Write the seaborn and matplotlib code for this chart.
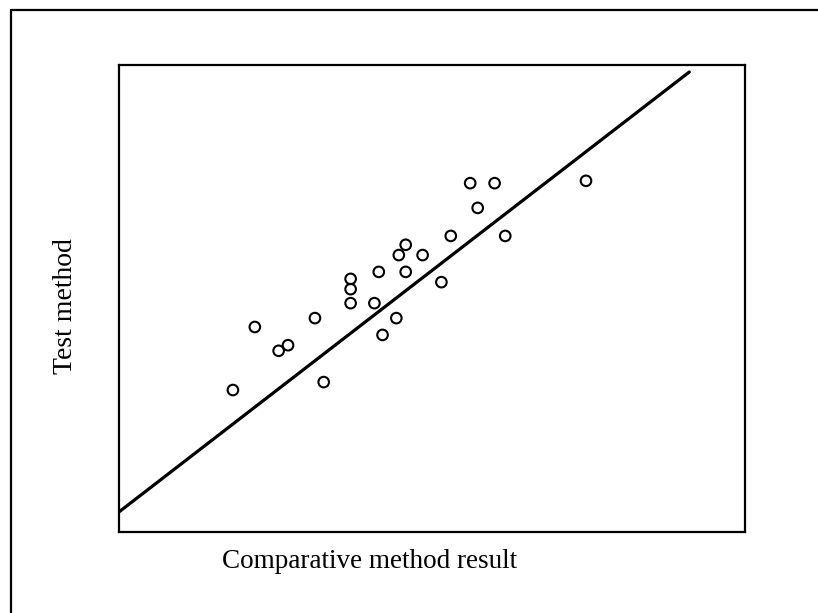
import matplotlib
matplotlib.use("Agg")
import matplotlib.pyplot as plt
import seaborn as sns
import pandas as pd
from matplotlib.lines import Line2D

# data (arbitrary units, axes 0-100)
comparative = [18.2, 21.7, 25.5, 27.0, 31.3, 32.7, 37.0, 37.0, 37.0, 40.8, 41.5, 42.1,
               44.3, 44.7, 45.8, 45.8, 48.5, 51.5, 53.0, 56.1, 60.0, 57.3, 61.7, 74.6]
test = [30.4, 43.9, 38.8, 40.0, 45.8, 32.1, 54.2, 52.0, 49.0, 49.0, 55.7, 42.2,
        45.8, 59.3, 61.5, 55.7, 59.3, 53.5, 63.4, 74.7, 74.7, 69.4, 63.4, 75.2]
fit_x = [0.0, 91.1]
fit_y = [4.3, 98.5]

df = pd.DataFrame({"comparative": comparative, "test": test})
fit = pd.DataFrame({"x": fit_x, "y": fit_y})

sns.set_style("white")
plt.rcParams["font.family"] = ["Liberation Serif", "DejaVu Serif"]

fig = plt.figure(figsize=(8.18, 6.13), dpi=100)
ax = fig.add_axes([119 / 818, 1 - 532 / 613, 626 / 818, 467 / 613])

sns.lineplot(data=fit, x="x", y="y", color="black", linewidth=2.3, ax=ax)
sns.scatterplot(data=df, x="comparative", y="test", s=58, facecolor="none",
                edgecolor="black", linewidth=1.5, ax=ax)

ax.set_xlim(0, 100)
ax.set_ylim(0, 100)
ax.set_xticks([])
ax.set_yticks([])
ax.set_xlabel("")
ax.set_ylabel("")
for sp in ax.spines.values():
    sp.set_color("black")
    sp.set_linewidth(1.6)

fig.text(370 / 818, 1 - 562 / 613, "Comparative method result", ha="center", va="center",
         fontsize=19.5, color="black")
fig.text(65 / 818, 1 - 306 / 613, "Test method", ha="center", va="center",
         rotation=90, fontsize=20, color="black")

# outer frame (cut off at right and bottom)
fig.add_artist(Line2D([11 / 818, 11 / 818], [0, 1 - 10 / 613], color="black",
                      linewidth=1.6, transform=fig.transFigure))
fig.add_artist(Line2D([11 / 818, 1], [1 - 10 / 613, 1 - 10 / 613], color="black",
                      linewidth=1.6, transform=fig.transFigure))

fig.savefig("out.png", dpi=100)
